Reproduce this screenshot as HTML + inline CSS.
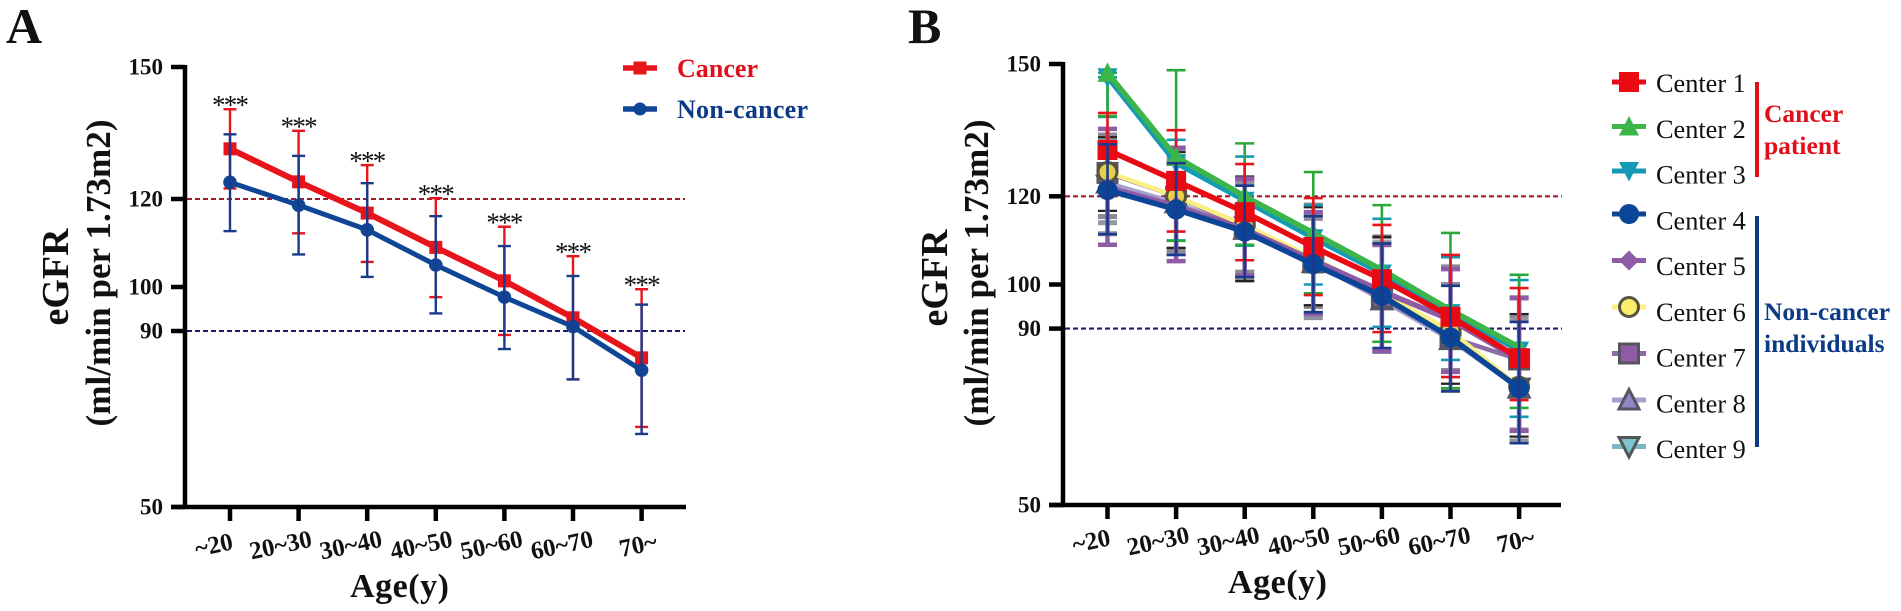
<!DOCTYPE html>
<html lang="en">
<head>
<meta charset="utf-8">
<title>eGFR by age: cancer and non-cancer</title>
<style>
html,body{margin:0;padding:0;background:#fff;width:1901px;height:611px;overflow:hidden}
svg{display:block}
text{font-family:"Liberation Serif",serif;fill:#111}
.b{font-weight:700}
</style>
</head>
<body>
<svg id="fig" width="1901" height="611" viewBox="0 0 1901 611" xmlns="http://www.w3.org/2000/svg">
  <rect width="1901" height="611" fill="#fff"/>
  <text class="b" x="6" y="43" font-size="50">A</text>
  <text class="b" x="908" y="43" font-size="50">B</text>

  <text class="b" font-size="38" text-anchor="middle" transform="translate(68,277) rotate(-90)">eGFR</text>
  <text class="b" font-size="35" text-anchor="middle" textLength="307" transform="translate(110,273) rotate(-90)">(ml/min per 1.73m2)</text>
  <text class="b" font-size="34" x="350" y="597" textLength="99">Age(y)</text>

  <text class="b" font-size="38" text-anchor="middle" transform="translate(947,278) rotate(-90)">eGFR</text>
  <text class="b" font-size="35" text-anchor="middle" textLength="307" transform="translate(988,273) rotate(-90)">(ml/min per 1.73m2)</text>
  <text class="b" font-size="34" x="1228" y="593" textLength="99">Age(y)</text>

  <g id="panelA"></g>
  <g id="panelB"></g>

  <g>
    <g>
      <line x1="623" x2="657" y1="68" y2="68" stroke="#e8141c" stroke-width="5.5"/>
      <rect x="633.500" y="61.500" width="13" height="13" fill="#e8141c"/>
      <text class="b" x="677" y="77" font-size="26" style="fill:#e00f1a" textLength="81">Cancer</text>
    </g>
    <g>
      <line x1="623" x2="657" y1="109" y2="109" stroke="#0e4595" stroke-width="5.5"/>
      <circle cx="640" cy="109" r="6.500" fill="#0e4595"/>
      <text class="b" x="677" y="118" font-size="26" style="fill:#0d3a86" textLength="131">Non-cancer</text>
    </g>
  </g>

  <g id="legendB"></g>

  <g>
    <rect x="1755" y="82" width="4" height="95" fill="#e00f1a"/>
    <rect x="1755" y="216" width="4" height="231" fill="#0d3a86"/>
    <text class="b" x="1764" y="122" font-size="25.500" style="fill:#e00f1a">Cancer</text>
    <text class="b" x="1764" y="154" font-size="25.500" style="fill:#e00f1a">patient</text>
    <text class="b" x="1764" y="320" font-size="25.500" style="fill:#0d3a86">Non-cancer</text>
    <text class="b" x="1764" y="352" font-size="25.500" style="fill:#0d3a86">individuals</text>
  </g>
</svg>

<script>
const ageCategories = ["~20","20~30","30~40","40~50","50~60","60~70","70~"];
const yTickValues = [50,90,100,120,150];
const referenceLevels = [120,90];
const significanceLabels = ["***","***","***","***","***","***","***"];

const cancerMean = [131.4,123.9,116.8,109,101.4,93,83.9];
const cancerUpper = [140.4,135.5,127.7,120.2,113.7,107,99.5];
const cancerLower = [122.4,112.2,105.7,97.7,89.1,79,68.2];
const nonCancerMean = [123.8,118.6,113,105,97.7,91,81.1];
const nonCancerUpper = [134.7,129.8,123.6,116.1,109.3,102.5,96];
const nonCancerLower = [112.7,107.4,102.3,94,85.9,79,66.6];

const center1Mean = [130.5,123.5,116.4,108.5,101.2,92.7,83.3];
const center1Upper = [138.9,135,127.3,119.6,113.5,106.7,99.2];
const center1Lower = [122,112,105.5,97.6,89.2,79,73.8];
const center2Mean = [148,128.9,120,111.7,103.3,94.2,85.8];
const center2Upper = [148,148.6,132,125.5,118,111.7,102.2];
const center2Lower = [138.2,109.9,109,98,87,76.5,72];
const center3Mean = [147,127.5,119,110.5,102.5,93.5,85];
const center3Upper = [147,132.8,129,118,114.9,106.2,101];
const center3Lower = [138,110,108.8,100,90.4,82.9,70];
const center4Mean = [121.4,117,112,104.6,97.4,88,76.5];
const center4Upper = [131.8,127.5,122.4,115.5,109.3,99.7,91.5];
const center4Lower = [111.4,106.7,101.7,93.7,85.6,75.8,64];
const center5Mean = [122,117.8,112.5,105.5,98.5,92,83];
const center5Upper = [135.3,131,124,116.4,109,103.5,96.9];
const center5Lower = [109,105.3,102,93.3,84.9,80.2,66.8];
const center6Mean = [125.5,120,113.5,106,98,89.5,76.8];
const center6Upper = [133.4,130,124.5,117.5,110.8,103.5,93.3];
const center6Lower = [116.7,108.3,100.8,95.3,87,77.5,65.5];
const center7Mean = [125.3,120,113,105,97,88,83];
const center7Upper = [133.9,130.5,124,118,110.8,104,97];
const center7Lower = [115.4,108,102.8,95,85,80.5,67];
const center8Mean = [123,118.5,112.5,105,96.5,87.5,76.5];
const center8Upper = [133,128,123.5,115,109,100,93];
const center8Lower = [111.5,107,101.8,92.5,85,76,64.5];
const center9Mean = [122.5,118,112.5,105,97,88,76.5];
const center9Upper = [133,129,123,116,109.5,100,92];
const center9Lower = [114,107,101,93.5,84.8,76,64.5];

const legendCenters = ["Center 1","Center 2","Center 3","Center 4","Center 5","Center 6","Center 7","Center 8","Center 9"];

const NS = "http://www.w3.org/2000/svg";

function mk(parent, tag, name, attrs) {
  const el = document.createElementNS(NS, tag);
  
  
  for (const k in attrs) el.setAttribute(k, attrs[k]);
  parent.appendChild(el);
  return el;
}

function makeAxes(x0, yBase, pxPerUnit, axisX, xEnd, labelY, dashEnd) {
  const x = i => x0 + i * 68.6;
  const y = v => yBase - (v - 50) * pxPerUnit;
  return {x, y, axisX, xEnd, yBase, labelY, dashEnd};
}

const axA = makeAxes(230, 507, 4.4, 185, 686, 546, 685);
const axB = makeAxes(1107.5, 505, 4.41, 1063, 1561, 542, 1562);

function drawAxes(g, ax, prefix) {
  const refColors = ["#a01c28", "#1b1a6e"];
  referenceLevels.forEach((lv, i) => {
    mk(g, 'line', prefix + '-reference-line-' + lv, {
      x1: ax.axisX + 2, x2: ax.dashEnd, y1: ax.y(lv), y2: ax.y(lv),
      stroke: refColors[i], 'stroke-width': 2.1, 'stroke-dasharray': '5 3'
    });
  });
  mk(g, 'line', prefix + '-y-axis-line', {x1: ax.axisX, x2: ax.axisX, y1: ax.y(150) - 2, y2: ax.yBase + 2, stroke: '#000', 'stroke-width': 4.5});
  mk(g, 'line', prefix + '-x-axis-line', {x1: ax.axisX - 14, x2: ax.xEnd, y1: ax.yBase, y2: ax.yBase, stroke: '#000', 'stroke-width': 4.5});
  yTickValues.forEach(v => {
    mk(g, 'line', prefix + '-y-tick-' + v, {x1: ax.axisX - 14, x2: ax.axisX, y1: ax.y(v), y2: ax.y(v), stroke: '#000', 'stroke-width': 4.5});
    const t = mk(g, 'text', prefix + '-y-tick-label-' + v, {x: ax.axisX - 22, y: ax.y(v) + 7.5, 'text-anchor': 'end', 'font-size': 23, 'font-weight': 700});
    t.textContent = String(v);
  });
  ageCategories.forEach((c, i) => {
    mk(g, 'line', prefix + '-x-tick-' + i, {x1: ax.x(i), x2: ax.x(i), y1: ax.yBase, y2: ax.yBase + 14, stroke: '#000', 'stroke-width': 4.5});
    const cx = ax.x(i) - 18 + i * 1.7 + (i === 0 ? 3.5 : 0) + (i === 6 ? 6 : 0);
    const t = mk(g, 'text', prefix + '-x-tick-label-' + i, {'text-anchor': 'middle', 'font-size': 25, 'font-weight': 700, transform: 'translate(' + cx + ',' + (ax.labelY + 7) + ') rotate(-12)'});
    t.textContent = c;
  });
}

function drawErrors(g, ax, name, upper, lower, st) {
  ageCategories.forEach((c, i) => {
    const px = ax.x(i);
    mk(g, 'line', name + '-error-bar-' + i, {x1: px, x2: px, y1: ax.y(upper[i]), y2: ax.y(lower[i]), stroke: st.err, 'stroke-width': st.errW});
    [upper[i], lower[i]].forEach((v, k) => {
      mk(g, 'line', name + (k ? '-lower-cap-' : '-upper-cap-') + i, {x1: px - st.cap, x2: px + st.cap, y1: ax.y(v), y2: ax.y(v), stroke: st.err, 'stroke-width': st.capW});
    });
  });
}

function drawLine(g, ax, name, mean, st) {
  const pts = mean.map((v, i) => ax.x(i) + ',' + ax.y(v)).join(' ');
  mk(g, 'polyline', name + '-line', {points: pts, fill: 'none', stroke: st.line, 'stroke-width': st.lineW});
}

function drawMarker(g, name, shape, cx, cy, r, fill, stroke, sw) {
  const common = {fill: fill, stroke: stroke || 'none', 'stroke-width': sw || 0};
  let tag, a;
  if (shape === 'circle') { tag = 'circle'; a = {cx: cx, cy: cy, r: r}; }
  else if (shape === 'square') { tag = 'rect'; a = {x: cx - r, y: cy - r, width: 2 * r, height: 2 * r}; }
  else {
    tag = 'polygon';
    let p;
    if (shape === 'up') p = [[cx, cy - r * 1.05], [cx + r, cy + r * 0.9], [cx - r, cy + r * 0.9]];
    else if (shape === 'down') p = [[cx, cy + r * 1.05], [cx + r, cy - r * 0.9], [cx - r, cy - r * 0.9]];
    else p = [[cx, cy - r], [cx + r, cy], [cx, cy + r], [cx - r, cy]];
    a = {points: p.map(q => q.join(',')).join(' ')};
  }
  mk(g, tag, name, Object.assign(a, common));
}

function drawMarkers(g, ax, name, mean, st) {
  mean.forEach((v, i) => {
    drawMarker(g, name + '-marker-' + i, st.shape, ax.x(i), ax.y(v), st.r, st.fill, st.stroke, st.sw);
  });
}

/* Panel A */
const gA = document.getElementById('panelA');
drawAxes(gA, axA, 'panel-a');
const stCancer = {err: '#e8141c', errW: 2.4, cap: 6.5, capW: 2.4, line: '#e8141c', lineW: 6, shape: 'square', r: 6.5, fill: '#e8141c'};
const stNon = {err: '#1a3a8a', errW: 2.4, cap: 6.5, capW: 2.4, line: '#0e4595', lineW: 5, shape: 'circle', r: 6.8, fill: '#0e4595'};
drawErrors(gA, axA, 'cancer', cancerUpper, cancerLower, stCancer);
drawLine(gA, axA, 'cancer', cancerMean, stCancer);
drawMarkers(gA, axA, 'cancer', cancerMean, stCancer);
drawLine(gA, axA, 'non-cancer', nonCancerMean, stNon);
drawMarkers(gA, axA, 'non-cancer', nonCancerMean, stNon);
drawErrors(gA, axA, 'non-cancer', nonCancerUpper, nonCancerLower, stNon);
significanceLabels.forEach((s, i) => {
  const t = mk(gA, 'text', 'significance-marker-' + i, {x: axA.x(i) - 18, y: axA.y(cancerUpper[i]) + 4.7, 'font-size': 27, textLength: 37, lengthAdjust: 'spacing'});
  t.textContent = s;
});

/* Panel B */
const gB = document.getElementById('panelB');
drawAxes(gB, axB, 'panel-b');

const centerStyles = [
  {err:'#e8141c',errW:2.6,cap:9.5,capW:2.6,line:'#ea0a14',lineW:5.5,shape:'square',r:10,fill:'#ea0a14'},
  {err:'#2aa838',errW:2.6,cap:9.5,capW:2.6,line:'#3cb54a',lineW:5.5,shape:'up',r:10,fill:'#3cb54a'},
  {err:'#149ab5',errW:2.6,cap:9.5,capW:2.6,line:'#149ab5',lineW:5,shape:'down',r:10,fill:'#149ab5'},
  {err:'#1b3a8c',errW:2.6,cap:9.5,capW:2.6,line:'#0b4597',lineW:5.5,shape:'circle',r:10,fill:'#0b4597'},
  {err:'#8e5ba6',errW:4.5,cap:9.5,capW:4.5,line:'#8e5ba6',lineW:5.5,shape:'diamond',r:10,fill:'#8e5ba6'},
  {err:'#222222',errW:2,cap:9.5,capW:2.2,line:'#fbef84',lineW:4.5,shape:'circle',r:9.5,fill:'#e8cf4a',stroke:'#55543f',sw:3},
  {err:'#8a8a90',errW:4,cap:9.5,capW:5,line:'#8c6aa8',lineW:4.5,shape:'square',r:9.5,fill:'#8e5ba6',stroke:'#555560',sw:3},
  {err:'#8f8f9f',errW:4,cap:9.5,capW:5,line:'#a79fce',lineW:4.5,shape:'up',r:10,fill:'#8f88c4',stroke:'#555566',sw:3},
  {err:'#8f9aa0',errW:4,cap:9.5,capW:5,line:'#7ab6c4',lineW:4.5,shape:'down',r:10,fill:'#7cc4d0',stroke:'#555',sw:3}
];

const centerData = [
  [center1Mean,center1Upper,center1Lower],
  [center2Mean,center2Upper,center2Lower],
  [center3Mean,center3Upper,center3Lower],
  [center4Mean,center4Upper,center4Lower],
  [center5Mean,center5Upper,center5Lower],
  [center6Mean,center6Upper,center6Lower],
  [center7Mean,center7Upper,center7Lower],
  [center8Mean,center8Upper,center8Lower],
  [center9Mean,center9Upper,center9Lower]
];

const drawOrder = [8,7,6,5,4,2,1,0,3];
drawOrder.forEach(k => {
  const d = centerData[k];
  const st = centerStyles[k];
  const name = 'center-' + (k + 1);
  if (k !== 3) drawErrors(gB, axB, name, d[1], d[2], st);
});
drawOrder.forEach(k => {
  const d = centerData[k];
  const st = centerStyles[k];
  const name = 'center-' + (k + 1);
  drawLine(gB, axB, name, d[0], st);
  drawMarkers(gB, axB, name, d[0], st);
  if (k === 3) drawErrors(gB, axB, name, d[1], d[2], st);
});

/* Panel B legend */
const gL = document.getElementById('legendB');
legendCenters.forEach((label, i) => {
  const st = centerStyles[i];
  const cy = i < 3 ? 82 + i * 44.5 : 214 + (i - 3) * 46.5;
  const row = mk(gL, 'g', 'legend-entry-center-' + (i + 1), {});
  mk(row, 'line', 'legend-line-center-' + (i + 1), {x1: 1612, x2: 1646, y1: cy, y2: cy, stroke: st.line, 'stroke-width': 5});
  drawMarker(row, 'legend-marker-center-' + (i + 1), st.shape, 1629, cy, st.r, i === 5 ? '#fcee6d' : st.fill, st.stroke, st.sw);
  const t = mk(row, 'text', 'legend-label-center-' + (i + 1), {x: 1656, y: 92 + i * 45.75, 'font-size': 26.3});
  t.textContent = label;
});
</script>
</body>
</html>
